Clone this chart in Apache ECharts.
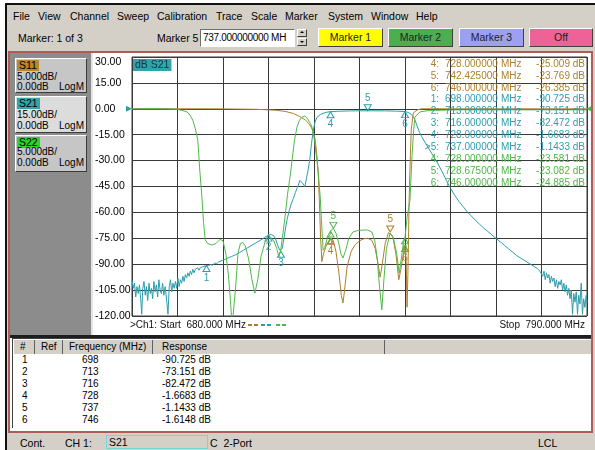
<!DOCTYPE html>
<html>
<head>
<meta charset="utf-8">
<script src="https://cdn.jsdelivr.net/npm/echarts@6/dist/echarts.min.js"></script>
<style>
    body {margin: 0; width: 595px; height: 450px; position: relative; overflow: hidden; background: #fff;
        font: 10px "Liberation Sans", Arial, sans-serif; color: #000;}
    .a {position: absolute; white-space: nowrap; line-height: 12px;}
    .btn {position: absolute; top: 28px; height: 19px; line-height: 17px; text-align: center; box-sizing: border-box;
        border: 1px solid; border-color: #fff #404040 #404040 #fff; color: #222; font-size: 10.5px;}
    .box {position: absolute; left: 15px; width: 72px; box-sizing: border-box; background: #c6c6c6;
        border: 1px solid; border-color: #fff #3a3a3a #3a3a3a #fff;}
    .tag {position: absolute; left: 1px; padding: 0 2px; line-height: 11px; height: 11px; font-size: 10.5px;}
    .hd {position: absolute; top: 340px; height: 14px; line-height: 14px; background: #d4d0c8; box-sizing: border-box;
        border-right: 1px solid #606060; padding-left: 6px; white-space: nowrap; overflow: hidden;}
    #menu .a {font-size: 10.5px;}
</style>
</head>
<body>
<div class="a" style="left:5px;top:3px;width:590px;height:447px;background:#d4d0c8;border-top:2px solid #111;border-left:2px solid #111;box-sizing:border-box"></div>
<div id="menu"></div>
<div class="a" style="left:18px;top:32px;font-size:10.5px">Marker: 1 of 3</div>
<div class="a" style="left:157px;top:32px;font-size:10.5px">Marker 5</div>
<div class="a" style="left:200px;top:29px;width:95px;height:18px;background:#fff;box-sizing:border-box;border:1px solid;border-color:#707070 #fff #fff #707070;padding-left:2px;line-height:16px;overflow:hidden;font-size:10px;letter-spacing:-0.3px">737.000000000 MH</div>
<div class="a" style="left:297px;top:29px;width:10px;height:8px;box-sizing:border-box;border:1px solid;border-color:#fff #404040 #404040 #fff"></div>
<div class="a" style="left:297px;top:38px;width:10px;height:8px;box-sizing:border-box;border:1px solid;border-color:#fff #404040 #404040 #fff"></div>
<div class="a" style="left:300px;top:31px;width:0;height:0;border-left:2px solid transparent;border-right:2px solid transparent;border-bottom:2px solid #000"></div>
<div class="a" style="left:300px;top:41px;width:0;height:0;border-left:2px solid transparent;border-right:2px solid transparent;border-top:2px solid #000"></div>
<div class="btn" style="left:318px;width:65px;background:#ffff00">Marker 1</div>
<div class="btn" style="left:388px;width:65px;background:#4cae4f">Marker 2</div>
<div class="btn" style="left:459px;width:65px;background:#9d9ff0">Marker 3</div>
<div class="btn" style="left:529px;width:64px;background:#ee6298">Off</div>

<div class="a" style="left:8px;top:51px;width:585px;height:382px;box-sizing:border-box;border:2px solid #b05a5a;background:#fff"></div>
<div class="a" style="left:10px;top:53px;width:81px;height:282px;background:#8c8c8c"></div>
<div class="a" style="left:91px;top:53px;width:2px;height:282px;background:#e4e4e4"></div>

<div class="box" style="top:58px;height:35px">
    <div class="tag" style="top:1px;background:#b8862b">S11</div>
    <div class="a" style="left:1px;top:12px">5.000dB/</div>
    <div class="a" style="left:1px;top:22px">0.00dB</div>
    <div class="a" style="left:43px;top:22px">LogM</div>
</div>
<div class="box" style="top:96px;height:37px;background:#dcdcdc">
    <div class="tag" style="top:1px;background:#33a4aa">S21</div>
    <div class="a" style="left:1px;top:12px">15.00dB/</div>
    <div class="a" style="left:1px;top:23px">0.00dB</div>
    <div class="a" style="left:43px;top:23px">LogM</div>
</div>
<div class="box" style="top:135px;height:37px">
    <div class="tag" style="top:1px;background:#2fd02f">S22</div>
    <div class="a" style="left:1px;top:10px">5.000dB/</div>
    <div class="a" style="left:1px;top:21px">0.00dB</div>
    <div class="a" style="left:43px;top:21px">LogM</div>
</div>

<div id="chart" class="a" style="left:93px;top:53px;width:498px;height:282px;background:#fff"></div>

<div class="a" style="left:10px;top:335px;width:581px;height:3px;background:#1e1e1e"></div>
<div class="a" style="left:12px;top:338px;width:579px;height:90px;background:#fff;border-left:1px solid #404040;border-top:1px solid #404040;box-sizing:border-box"></div>
<div class="hd" style="left:14px;width:21px">#</div>
<div class="hd" style="left:35px;width:28px">Ref</div>
<div class="hd" style="left:63px;width:90px">Frequency (MHz)</div>
<div class="hd" style="left:153px;width:232px;padding-left:9px">Response</div>
<div class="hd" style="left:385px;width:206px;border-right:none"></div>
<div id="rows"></div>

<div class="a" style="left:20px;top:437px;font-size:10.5px">Cont.</div>
<div class="a" style="left:65px;top:437px;font-size:10.5px">CH 1:</div>
<div class="a" style="left:106px;top:435px;width:102px;height:14px;box-sizing:border-box;border:1px solid #70d8d8;padding-left:2px;line-height:12px;font-size:10.5px">S21</div>
<div class="a" style="left:210px;top:437px;font-size:10.5px">C&nbsp;&nbsp;2-Port</div>
<div class="a" style="left:538px;top:437px;font-size:10.5px">LCL</div>

<script>
    // menu bar
    const menuItems = ['File', 'View', 'Channel', 'Sweep', 'Calibration', 'Trace', 'Scale', 'Marker', 'System', 'Window', 'Help'];
    const menuLeft = [13, 38, 70, 117, 157, 216, 251, 285, 328, 371, 416];

    // traces: [MHz, dB]
    const s21Trace = [
        [680.0, -99], [680.3, -104], [680.6, -101], [680.9, -109], [681.2, -103], [681.5, -107], [681.8, -102],
        [682.1, -110], [682.35, -119], [682.6, -104], [682.9, -100], [683.2, -108], [683.5, -103], [683.8, -111],
        [684.1, -101], [684.4, -107], [684.7, -104], [685.0, -110], [685.3, -100], [685.6, -106], [685.9, -102],
        [686.2, -109], [686.5, -99], [686.8, -105], [687.1, -107], [687.4, -101], [687.7, -108], [688.0, -103],
        [688.3, -109], [688.7, -119], [689.0, -103], [689.3, -99], [689.6, -106], [689.9, -101], [690.2, -104],
        [690.5, -100], [690.8, -104], [691.1, -98], [691.4, -103], [691.7, -99], [692.0, -101], [692.3, -97],
        [692.6, -100], [692.9, -96], [693.2, -98], [693.5, -95], [693.8, -97], [694.1, -94], [694.4, -96],
        [694.7, -93], [695.0, -95], [695.3, -93], [695.6, -94], [695.9, -92], [696.2, -93.5], [696.5, -92],
        [696.8, -92.5], [697.1, -91.5], [697.4, -92.5], [697.7, -91], [698.0, -90.7], [698.5, -90.8], [699, -90.2],
        [699.5, -90.6], [700, -89.3], [700.5, -89.6], [701, -88.6], [702, -87.6], [703, -86.6], [704, -85.6],
        [705, -84.6], [706, -83.3], [707, -81.8], [708, -80.4], [709, -79], [710, -77.6], [711, -76.2], [712, -74.6],
        [713, -73.15], [713.7, -72.8], [714.3, -73.6], [714.8, -76], [715.3, -79.5], [715.7, -81.8], [716, -82.47],
        [716.3, -81], [716.6, -77], [717, -71], [717.5, -64], [718, -59], [718.5, -55], [719, -52], [719.5, -48.5],
        [720, -45.5], [720.6, -41.5], [721.2, -43], [721.8, -45], [722.2, -40], [722.6, -35], [723, -29],
        [723.4, -20], [723.8, -13], [724.2, -8], [724.7, -5], [725.5, -3.4], [726.3, -2.5], [727, -2], [728, -1.67],
        [730, -1.4], [733, -1.2], [737, -1.14], [741, -1.2], [744, -1.35], [746, -1.61], [746.5, -1.9], [747, -2.4],
        [747.5, -3.2], [748, -4.5], [748.5, -7], [749, -10.5], [749.5, -13.5], [750, -16], [751, -20], [752, -24],
        [753, -28], [754, -32], [755, -36.5], [756, -41.5], [757, -46], [758, -50], [759, -53.5], [760, -56.5],
        [761, -59.5], [762, -62], [763, -64.5], [764, -66.8], [765, -69], [766, -71], [767, -73], [768, -75],
        [769, -77], [770, -79], [771, -81], [772, -83], [773, -85], [774, -86.5], [775, -88], [776, -89.5],
        [777, -91], [778, -92.5], [778.6, -94], [779.0, -93], [779.3, -97], [779.6, -94], [779.9, -99],
        [780.2, -95], [780.5, -98], [780.8, -96], [781.1, -101], [781.4, -97], [781.7, -100], [782.0, -98],
        [782.3, -103], [782.6, -99], [782.9, -104], [783.2, -100], [783.5, -102], [783.8, -99], [784.1, -105],
        [784.4, -101], [784.7, -106], [785.0, -102], [785.3, -108], [785.6, -104], [785.9, -110], [786.2, -105],
        [786.5, -119], [786.8, -107], [787.1, -112], [787.4, -106], [787.7, -119], [788.0, -108], [788.3, -113],
        [788.6, -101], [788.9, -119], [789.2, -110], [789.5, -115], [789.8, -108], [790, -112]
    ];
    const s11Trace = [
        [680, 0], [690, 0], [700, 0], [705, -0.05], [710, -0.1], [713, -0.2], [715, -0.3], [717, -0.5], [719, -0.9],
        [720.6, -1.5], [722, -2.2], [723, -3.1], [723.8, -4.3], [724.3, -6], [724.7, -9], [725, -12], [725.3, -18],
        [725.6, -25], [725.9, -29.5], [726.3, -28], [727, -26.3], [727.6, -25.6], [728, -25.01], [728.6, -25.3],
        [729.3, -27.5], [730, -31.5], [730.6, -36], [731, -37.5], [731.4, -35], [732, -30.5], [733, -27.5],
        [734, -26.2], [735, -25.5], [736, -25.1], [737, -25], [738, -25.4], [738.8, -27], [739.5, -30], [740, -32.5],
        [740.5, -30], [741.2, -26], [742, -23.9], [742.425, -23.77], [743, -24.5], [743.8, -28], [744.5, -33],
        [745, -31], [745.5, -28.6], [746, -26.39], [746.3, -30], [746.5, -38.3], [746.7, -32], [747, -17.6],
        [747.3, -9], [747.5, -4.1], [748, -0.8], [749, -0.2], [750, 0], [790, 0]
    ];
    const s22Trace = [
        [680, 0], [688, 0], [690.9, -0.1], [692, -0.3], [693.3, -0.6], [694, -1.2], [694.7, -2.2], [695.3, -3.8],
        [695.9, -6], [696.4, -12], [696.9, -17], [697.3, -22], [697.7, -25.3], [698.3, -26], [699.3, -26.3],
        [700.3, -26], [701.3, -25.2], [702, -25.5], [702.7, -28], [703.3, -32], [703.8, -37], [704.2, -42],
        [704.6, -42], [705.1, -34], [705.6, -28], [706.2, -26], [706.8, -25.8], [707.4, -26.5], [708.2, -29],
        [709, -33], [709.7, -35.6], [710.4, -33], [711.2, -28.5], [712.2, -25.6], [713.4, -24.7], [714.3, -25.5],
        [715, -27], [715.5, -28.6], [716, -27], [716.5, -24], [717, -20.9], [717.6, -16.5], [718.2, -13.2],
        [718.7, -9.9], [719.3, -6], [719.9, -3.5], [720.5, -2.2], [721.1, -1.6], [721.8, -1.4], [722.5, -2],
        [723.1, -2.8], [723.5, -3.5], [724.1, -6], [724.7, -9.9], [725.1, -13], [725.5, -17], [725.9, -23],
        [726.2, -27.3], [726.6, -26.8], [727.2, -25], [727.9, -24.3], [728, -23.58], [728.675, -23.08], [729.3, -24],
        [730, -26], [730.5, -28], [731, -28.8], [731.6, -27.5], [732.4, -25], [733.4, -23.8], [734.5, -23.5],
        [736, -23.4], [737, -23.4], [738, -23.8], [738.7, -25.5], [739.3, -29], [739.8, -34], [740.4, -38.8],
        [740.9, -33], [741.5, -27], [742.4, -24], [743.2, -25], [744, -28], [744.6, -31.7], [745.1, -29],
        [745.6, -26], [746, -24.89], [746.5, -21], [747.2, -17.6], [747.7, -9], [748.1, -4], [748.4, -1.6],
        [749.6, -0.6], [752, -0.3], [760, -0.2], [790, -0.2]
    ];

    // markers: [number, MHz, dB]
    const s11Markers = [[4, 728, -25.009], [5, 742.425, -23.769], [6, 746, -26.385]];
    const s21Markers = [[1, 698, -90.725], [2, 713, -73.151], [3, 716, -82.472], [4, 728, -1.6683], [5, 737, -1.1433], [6, 746, -1.6148]];
    const s22Markers = [[4, 728, -23.581], [5, 728.675, -23.082], [6, 746, -24.885]];
    const activeMarker = 5;

    const s21Ticks = [30, 15, 0, -15, -30, -45, -60, -75, -90, -105, -120];
    const s11Range = [-40, 10];
    const s22Range = [-40, 10];
    const freqRange = [680, 790];

    const C11 = '#ad7f2c', C21 = '#2e9cab', C22 = '#4fb84a';
    const FONT = '10px "Liberation Sans", Arial, sans-serif';

    let menuHtml = '';
    menuItems.forEach((m, i) => {
        menuHtml += '<div class="a" style="left:' + menuLeft[i] + 'px;top:10px">' + m + '</div>';
    });
    document.getElementById('menu').innerHTML = menuHtml;

    let rowHtml = '';
    s21Markers.forEach((m, i) => {
        const top = 354 + i * 12;
        rowHtml += '<div class="a" style="left:22px;top:' + top + 'px">' + m[0] + '</div>'
            + '<div class="a" style="left:82px;top:' + top + 'px">' + m[1] + '</div>'
            + '<div class="a" style="left:162px;top:' + top + 'px">' + m[2].toPrecision(5) + ' dB</div>';
    });
    document.getElementById('rows').innerHTML = rowHtml;

    function marks(list, color) {
        return list.map(m => {
            const above = m[0] === activeMarker;
            return {
                coord: [m[1], m[2]],
                symbol: 'triangle', symbolSize: [7, 6], symbolRotate: above ? 180 : 0,
                symbolOffset: [0, above ? -3 : 3],
                itemStyle: {color: 'rgba(0,0,0,0)', borderColor: color, borderWidth: 1},
                label: {show: true, position: above ? 'top' : 'bottom', distance: 1, color: color, fontSize: 10, formatter: String(m[0])}
            };
        });
    }

    function txt(x, y, s, color, align) {
        return {
            type: 'text', x: x, y: y, z: 50,
            style: {text: s, fill: color, font: FONT, align: align || 'left', textAlign: align || 'left', verticalAlign: 'middle', textVerticalAlign: 'middle'}
        };
    }

    const graphics = [];
    graphics.push({
        type: 'text', x: 40, y: 6, z: 50,
        style: {text: 'dB S21', fill: '#12343f', font: '10.5px "Liberation Sans", Arial, sans-serif', backgroundColor: '#31a3ad', padding: [1, 2, 0, 2]}
    });
    const readRows = [];
    s11Markers.forEach(m => readRows.push({m: m, color: C11, act: false}));
    s21Markers.slice(0, 5).forEach(m => readRows.push({m: m, color: C21, act: m[0] === activeMarker}));
    s22Markers.forEach(m => readRows.push({m: m, color: C22, act: false}));
    readRows.forEach((r, i) => {
        const y = 11 + i * 11.9;
        graphics.push(txt(346, y, (r.act ? '>' : '') + r.m[0] + ':', r.color, 'right'));
        graphics.push(txt(352, y, r.m[1].toFixed(6), r.color));
        graphics.push(txt(408, y, 'MHz', r.color));
        graphics.push(txt(492, y, r.m[2].toPrecision(5) + ' dB', r.color, 'right'));
    });
    graphics.push(txt(37, 272, '>Ch1: Start  ' + freqRange[0].toFixed(3) + ' MHz', '#111'));
    graphics.push(txt(492, 272, 'Stop  ' + freqRange[1].toFixed(3) + ' MHz', '#111', 'right'));
    [[155, C11], [168, C21], [183, C22]].forEach(d => {
        graphics.push({
            type: 'line', z: 50, shape: {x1: d[0], y1: 272, x2: d[0] + 11, y2: 272},
            style: {stroke: d[1], lineWidth: 2, lineDash: [4, 2]}
        });
    });

    const chart = echarts.init(document.getElementById('chart'));
    chart.setOption({
        animation: false,
        textStyle: {fontFamily: '"Liberation Sans", Arial, sans-serif'},
        grid: {left: 39, right: 4, top: 4, bottom: 19, show: true, borderColor: '#3a3a3a', borderWidth: 1, outerBoundsMode: 'none'},
        xAxis: [
            {type: 'value', min: freqRange[0], max: freqRange[1], show: true, axisLine: {show: false}, axisTick: {show: false},
                axisLabel: {show: false}, splitLine: {show: false}},
            {type: 'value', min: 0, max: freqRange[1] - freqRange[0], interval: (freqRange[1] - freqRange[0]) / 10, position: 'bottom',
                axisLine: {show: false}, axisTick: {show: false}, axisLabel: {show: false},
                splitLine: {show: true, lineStyle: {color: '#3a3a3a', width: 1}}}
        ],
        yAxis: [
            {type: 'value', min: s21Ticks[s21Ticks.length - 1], max: s21Ticks[0], interval: s21Ticks[0] - s21Ticks[1],
                axisLine: {show: false}, axisTick: {show: false},
                axisLabel: {color: '#000', fontSize: 10.5, align: 'left', margin: 37, verticalAlignMaxLabel: 'top',
                    formatter: v => v.toFixed(2)},
                splitLine: {show: true, lineStyle: {color: '#3a3a3a', width: 1}}},
            {type: 'value', min: s11Range[0], max: s11Range[1], show: false},
            {type: 'value', min: s22Range[0], max: s22Range[1], show: false}
        ],
        graphic: graphics,
        series: [
            {name: 'S11', type: 'line', xAxisIndex: 0, yAxisIndex: 1, data: s11Trace, showSymbol: false, symbol: 'none',
                lineStyle: {color: C11, width: 1}, itemStyle: {color: C11}, z: 3,
                markPoint: {silent: true, data: marks(s11Markers, C11)}},
            {name: 'S21', type: 'line', xAxisIndex: 0, yAxisIndex: 0, data: s21Trace, showSymbol: false, symbol: 'none',
                lineStyle: {color: C21, width: 1}, itemStyle: {color: C21}, z: 4,
                markPoint: {silent: true, data: marks(s21Markers, C21).concat([{
                    coord: [freqRange[0], 0], symbol: 'triangle', symbolSize: 6, symbolRotate: -90, symbolOffset: [-3, 0],
                    itemStyle: {color: C21}, label: {show: false}}])}},
            {name: 'S22', type: 'line', xAxisIndex: 0, yAxisIndex: 2, data: s22Trace, showSymbol: false, symbol: 'none',
                lineStyle: {color: C22, width: 1}, itemStyle: {color: C22}, z: 5,
                markPoint: {silent: true, data: marks(s22Markers, C22).concat([{
                    coord: [freqRange[1], 0], symbol: 'triangle', symbolSize: 6, symbolRotate: 90, symbolOffset: [2, 0],
                    itemStyle: {color: C22}, label: {show: false}}])}}
        ]
    });
</script>
</body>
</html>
